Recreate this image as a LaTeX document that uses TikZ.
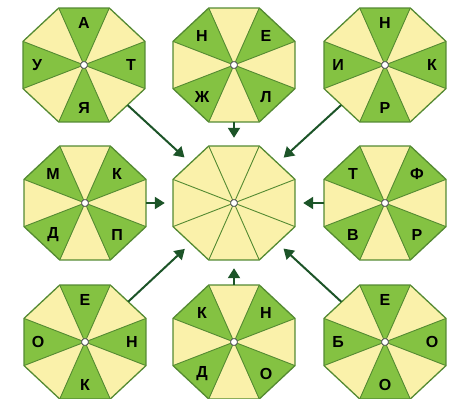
\documentclass[tikz,border=0pt]{standalone}
\usepackage{fontspec}
\setmainfont{Liberation Sans}
\usetikzlibrary{arrows.meta,shapes.geometric}
\definecolor{leaf}{RGB}{132,194,66}
\definecolor{cream}{RGB}{250,241,170}
\definecolor{rim}{RGB}{84,138,50}
\definecolor{dark}{RGB}{28,84,40}
\tikzset{
  hub/.style={ellipse, minimum width=122pt, minimum height=114pt, inner sep=0pt},
  lett/.style={font=\bfseries\fontsize{16}{16}\selectfont, inner sep=0pt, text=black},
  hubdot/.style={circle, draw=gray!70!black, fill=white, line width=0.8pt, minimum size=7pt, inner sep=0pt},
  spoke/.style={draw=rim, line width=0.9pt},
  rimline/.style={draw=rim, line width=1.3pt, line join=round},
  conn/.style={draw=dark, line width=2pt, -{Triangle[width=12pt,length=10pt]}, shorten >=8pt},
}
\newcommand\drawoct[2]{%
  \begin{scope}[shift={(#1.center)}, xscale=61, yscale=57]
    \fill[cream] (22.5:1.0824) \foreach \a in {67.5,112.5,...,337.5}{ -- (\a:1.0824)} -- cycle;
    \foreach \a in {#2} \fill[leaf] (0,0) -- (\a-22.5:1.0824) -- (\a+22.5:1.0824) -- cycle;
    \foreach \a in {22.5,67.5,...,337.5} \draw[spoke] (0,0) -- (\a:1.0824);
    \draw[rimline] (22.5:1.0824) \foreach \a in {67.5,112.5,...,337.5}{ -- (\a:1.0824)} -- cycle;
  \end{scope}}
% cardinal-green octagon: name x y top left right bottom
\newcommand\octA[7]{%
  \node[hub] (#1) at (#2,#3) {};
  \drawoct{#1}{0,90,180,270}
  \node[lett] (#1-t) at ([shift={(0,-42)}]#1.center) {#4};
  \node[lett] (#1-l) at ([shift={(-47,0)}]#1.center) {#5};
  \node[lett] (#1-r) at ([shift={(47,0)}]#1.center) {#6};
  \node[lett] (#1-b) at ([shift={(0,43)}]#1.center) {#7};
  \node[hubdot] (#1-dot) at (#1.center) {};}
% diagonal-green octagon: name x y topleft topright bottomleft bottomright
\newcommand\octB[7]{%
  \node[hub] (#1) at (#2,#3) {};
  \drawoct{#1}{45,135,225,315}
  \node[lett] (#1-tl) at ([shift={(-32,-29)}]#1.center) {#4};
  \node[lett] (#1-tr) at ([shift={(32,-29)}]#1.center) {#5};
  \node[lett] (#1-bl) at ([shift={(-32,32)}]#1.center) {#6};
  \node[lett] (#1-br) at ([shift={(32,32)}]#1.center) {#7};
  \node[hubdot] (#1-dot) at (#1.center) {};}
\begin{document}
\begin{tikzpicture}[x=1pt, y=-1pt]
  \useasboundingbox (0,0) rectangle (472,399);
  \octA{tl}{84}{65}{А}{У}{Т}{Я}
  \octB{tm}{234}{65}{Н}{Е}{Ж}{Л}
  \octA{tr}{385}{65}{Н}{И}{К}{Р}
  \octB{ml}{85}{203}{М}{К}{Д}{П}
  \node[hub] (c) at (234,203) {};
  \drawoct{c}{}
  \node[hubdot] (c-dot) at (c.center) {};
  \octB{mr}{385}{203}{Т}{Ф}{В}{Р}
  \octA{bl}{85}{342}{Е}{О}{Н}{К}
  \octB{bm}{234}{342}{К}{Н}{Д}{О}
  \octA{br}{385}{342}{Е}{Б}{О}{О}
  \foreach \s in {tl,tm,tr,ml,mr,bl,bm,br} \draw[conn] (\s) -- (c);
\end{tikzpicture}
\end{document}
